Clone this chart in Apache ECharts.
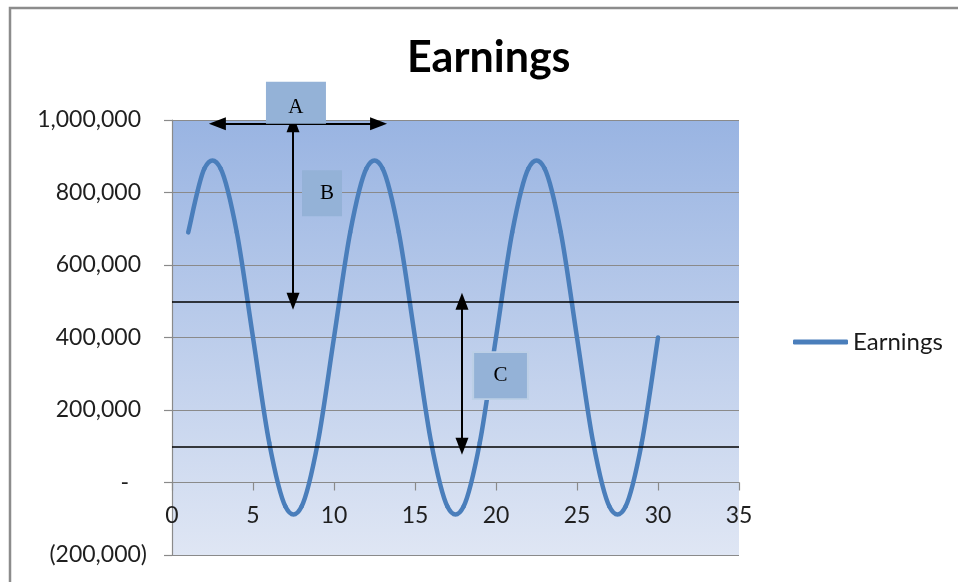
<!DOCTYPE html>
<html>
<head>
<meta charset="utf-8">
<title>Earnings</title>
<script src="https://cdn.jsdelivr.net/npm/echarts@6/dist/echarts.min.js"></script>
<style>
  html, body { margin: 0; padding: 0; background: #fff; }
  #chart { width: 958px; height: 582px; }
</style>
</head>
<body>
<div id="chart"></div>
<script>
// Periods (x) and earnings per period
const periods = [1, 2, 3, 4, 5, 6, 7, 8, 9, 10,
                 11, 12, 13, 14, 15, 16, 17, 18, 19, 20,
                 21, 22, 23, 24, 25, 26, 27, 28, 29, 30];
const earnings = [690000, 866000, 866000, 690000, 400000, 110000, -66000, -66000, 110000, 400000,
                  690000, 866000, 866000, 690000, 400000, 110000, -66000, -66000, 110000, 400000,
                  690000, 866000, 866000, 690000, 400000, 110000, -66000, -66000, 110000, 400000];

// Horizontal reference levels
const levels = [500000, 100000];

// Annotation arrows: [x1, y1, x2, y2] in axis units
const arrowA = [2.8, 990000, 12.75, 990000];
const arrowB = [7.47, 990000, 7.47, 500000];
const arrowC = [17.9, 500000, 17.9, 100000];

// Annotation labels: text and anchor in axis units (A sits on its arrow)
const labelTexts = ['A', 'B', 'C'];
const labelAnchors = [null, [9.26, 798000], [20.28, 295000]];

const FONT = 'Lato';
const LINE_COLOR = '#4a7ebb';
const BOX_COLOR = '#94b2d7';

// Plot area box, px
const GRID = { left: 172, right: 219, top: 120, bottom: 27 };
const Y_MIN = -200000, Y_MAX = 1000000;
const plotHeight = 582 - GRID.top - GRID.bottom;
// lift the x axis from the bottom edge up to the zero line
const xAxisLift = plotHeight * (0 - Y_MIN) / (Y_MAX - Y_MIN);

function accounting(v) {
  if (v === 0) return '{z|-}';
  if (v < 0) return '(' + (-v).toLocaleString('en-US') + ')';
  return '{p|' + v.toLocaleString('en-US') + '}';
}

function arrowLine(a, label) {
  const from = { coord: [a[0], a[1]], symbol: 'triangle' };
  if (label) from.label = label;
  return [from, { coord: [a[2], a[3]], symbol: 'triangle' }];
}

// Smoothed segment i -> i+1 (cardinal spline, tension 1/6), in pixel space
function renderSegment(params, api) {
  const i = params.dataIndex;
  const n = periods.length;
  if (i >= n - 1) return null;
  const pt = k => {
    const j = Math.max(0, Math.min(n - 1, k));
    return api.coord([periods[j], earnings[j]]);
  };
  const p0 = pt(i - 1), p1 = pt(i), p2 = pt(i + 1), p3 = pt(i + 2);
  return {
    type: 'bezierCurve',
    shape: {
      x1: p1[0], y1: p1[1],
      x2: p2[0], y2: p2[1],
      cpx1: p1[0] + (p2[0] - p0[0]) / 6,
      cpy1: p1[1] + (p2[1] - p0[1]) / 6,
      cpx2: p2[0] - (p3[0] - p1[0]) / 6,
      cpy2: p2[1] - (p3[1] - p1[1]) / 6
    },
    style: { stroke: LINE_COLOR, lineWidth: 4.5, fill: null, lineCap: 'round' },
    silent: true
  };
}

const boxSizes = [[60, 42], [40, 46], [55, 47]];

const chart = echarts.init(document.getElementById('chart'), null, { renderer: 'canvas' });

chart.setOption({
  animation: false,
  backgroundColor: '#fff',
  textStyle: { fontFamily: FONT },
  graphic: [{
    type: 'rect',
    z: -10,
    silent: true,
    shape: { x: 10, y: 8, width: 1000, height: 700 },
    style: { fill: 'none', stroke: '#8c8c8c', lineWidth: 2.5 }
  }],
  title: {
    text: 'Earnings',
    left: 402,
    top: 32,
    textStyle: { fontFamily: FONT, fontWeight: 'bold', fontSize: 43, color: '#000' }
  },
  legend: {
    data: [{ name: 'Earnings', icon: 'roundRect' }],
    left: 788,
    top: 325,
    itemWidth: 55,
    itemHeight: 5,
    itemGap: 4,
    textStyle: { fontFamily: FONT, fontSize: 24, color: '#1a1a1a' }
  },
  grid: {
    left: GRID.left, right: GRID.right, top: GRID.top, bottom: GRID.bottom,
    outerBoundsMode: 'none',
    containLabel: false,
    show: true,
    borderWidth: 0,
    backgroundColor: new echarts.graphic.LinearGradient(0, 0, 0, 1, [
      { offset: 0, color: '#99b4e2' },
      { offset: 1, color: '#dfe6f4' }
    ])
  },
  xAxis: {
    type: 'value',
    min: 0, max: 35, interval: 5,
    offset: -xAxisLift,
    axisLine: { show: true, onZero: false, lineStyle: { color: '#8a8a8a', width: 1.2 } },
    axisTick: { show: true, length: 8, lineStyle: { color: '#8a8a8a', width: 1.2 } },
    splitLine: { show: false },
    axisLabel: { fontFamily: FONT, fontSize: 23, color: '#1f1f1f', margin: 22 }
  },
  yAxis: {
    type: 'value',
    min: Y_MIN, max: Y_MAX, interval: 200000,
    axisLine: { show: true, lineStyle: { color: '#8a8a8a', width: 1.2 } },
    axisTick: { show: true, length: 8, lineStyle: { color: '#8a8a8a', width: 1.2 } },
    splitLine: { show: true, lineStyle: { color: '#8a8a8a', width: 1.2 } },
    axisLabel: {
      fontFamily: FONT, fontSize: 23, color: '#1f1f1f', margin: 25,
      formatter: accounting,
      rich: {
        p: { padding: [0, 6, 0, 0] },
        z: { padding: [0, 18, 0, 0] }
      }
    }
  },
  series: [{
    name: 'Earnings',
    type: 'custom',
    coordinateSystem: 'cartesian2d',
    clip: false,
    data: periods.map((p, i) => [p, earnings[i]]),
    encode: { x: 0, y: 1 },
    itemStyle: { color: LINE_COLOR },
    renderItem: renderSegment,
    markLine: {
      silent: true,
      z: 4,
      animation: false,
      label: { show: false },
      emphasis: { disabled: true },
      symbol: ['none', 'none'],
      symbolSize: [13, 17],
      lineStyle: { type: 'solid', color: '#000', width: 2 },
      data: [
        ...levels.map(v => ({ yAxis: v, lineStyle: { width: 1.6 } })),
        arrowLine(arrowA, {
          show: true,
          position: 'middle',
          distance: 0,
          formatter: labelTexts[0],
          backgroundColor: BOX_COLOR,
          width: boxSizes[0][0],
          height: boxSizes[0][1] - 10,
          lineHeight: boxSizes[0][1] - 10,
          padding: [10, 0, 0, 0],
          align: 'center',
          offset: [-2, 0],
          fontFamily: 'Liberation Serif',
          fontSize: 21,
          color: '#000'
        }),
        arrowLine(arrowB),
        arrowLine(arrowC)
      ]
    },
    markPoint: {
      silent: true,
      z: 6,
      animation: false,
      data: [1, 2].map(i => ({
        name: labelTexts[i],
        coord: labelAnchors[i],
        symbol: 'rect',
        symbolSize: boxSizes[i],
        itemStyle: i === 2
          ? { color: BOX_COLOR, borderColor: '#bccfe6', borderWidth: 2 }
          : { color: BOX_COLOR },
        label: {
          show: true,
          position: 'inside',
          formatter: labelTexts[i],
          fontFamily: 'Liberation Serif',
          fontSize: 21,
          color: '#000',
          offset: i === 1 ? [5, 0] : [0, 0]
        }
      }))
    }
  }]
});
</script>
</body>
</html>
